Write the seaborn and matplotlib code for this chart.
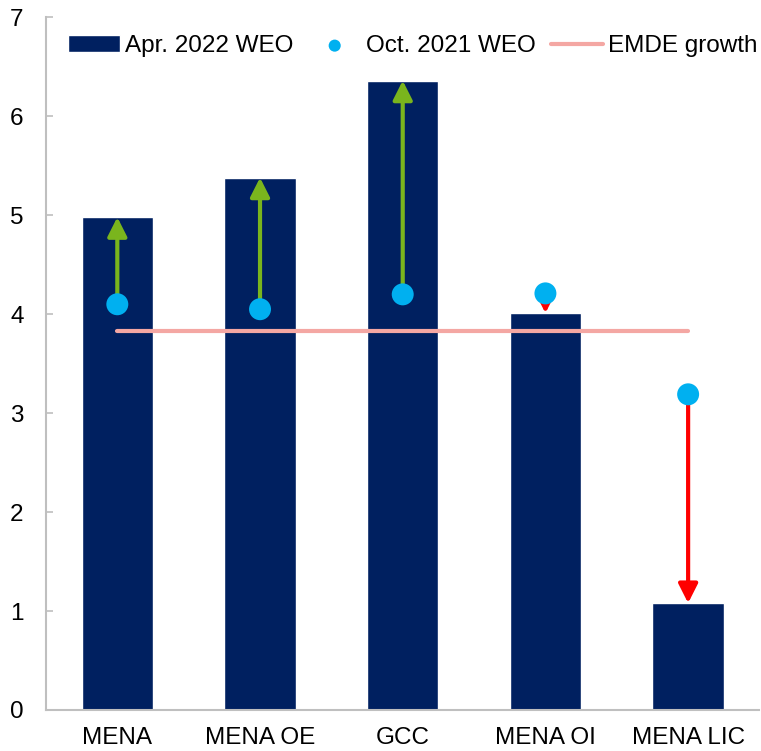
import pandas as pd
import numpy as np
import matplotlib
matplotlib.use('Agg')
import matplotlib.pyplot as plt
import seaborn as sns

# data
regions = ['MENA', 'MENA OE', 'GCC', 'MENA OI', 'MENA LIC']
apr_2022 = [4.98, 5.38, 6.36, 4.01, 1.08]
oct_2021 = [4.10, 4.05, 4.20, 4.21, 3.19]
emde_growth = 3.83

df = pd.DataFrame({'region': regions, 'apr': apr_2022, 'oct': oct_2021})

sns.set_style('white')
plt.rcParams['font.family'] = ['Liberation Sans', 'DejaVu Sans']
plt.rcParams['text.color'] = 'black'

fig = plt.figure(figsize=(7.61, 7.51), dpi=100)
ax = fig.add_axes([0.0604, 0.0546, 0.9376, 0.9224])

sns.barplot(data=df, x='region', y='apr', color='#002060', width=0.5,
            saturation=1, ax=ax, label='Apr. 2022 WEO', zorder=2)

xs = np.arange(len(regions))
ax.plot([xs[0], xs[-1]], [emde_growth, emde_growth], color='#F4A7A3',
        linewidth=3, label='EMDE growth', zorder=3)

# arrows from the October forecast to the April forecast
for x, start, end in zip(xs, oct_2021, apr_2022):
    col = '#7AB51D' if end > start else '#FF0000'
    ax.annotate('', xy=(x, end), xytext=(x, start),
                arrowprops=dict(arrowstyle='-|>,head_length=1.15,head_width=0.58',
                                mutation_scale=10, color=col, lw=3,
                                shrinkA=0, shrinkB=0),
                zorder=4)

sns.scatterplot(data=df, x='region', y='oct', color='#00B0F0', s=250,
                edgecolor='none', ax=ax, label='Oct. 2021 WEO', zorder=5)

ax.set_xlim(-0.5, 4.5)
ax.set_ylim(0, 7)
ax.set_yticks(range(0, 8))
ax.set_xlabel('')
ax.set_ylabel('')

for side in ['top', 'right']:
    ax.spines[side].set_visible(False)
for side in ['left', 'bottom']:
    ax.spines[side].set_color('#BFBFBF')
    ax.spines[side].set_linewidth(1.5)
ax.tick_params(axis='y', left=True, direction='in', length=5, width=1.2,
               color='#BFBFBF', labelsize=17.5, pad=16, labelcolor='black')
ax.tick_params(axis='x', bottom=False, labelsize=17.5, pad=9, labelcolor='black')

handles, labels = ax.get_legend_handles_labels()
order = [labels.index(l) for l in ['Apr. 2022 WEO', 'Oct. 2021 WEO', 'EMDE growth']]
ax.legend([handles[i] for i in order], [labels[i] for i in order],
          loc='upper left', ncol=3, frameon=False, fontsize=17.5,
          bbox_to_anchor=(68 / 761, 1 - 35 / 751), bbox_transform=fig.transFigure,
          borderaxespad=0, borderpad=0, handlelength=2.15, handletextpad=0.2,
          columnspacing=0.62, markerscale=0.55)

fig.savefig('out.png', dpi=100)
